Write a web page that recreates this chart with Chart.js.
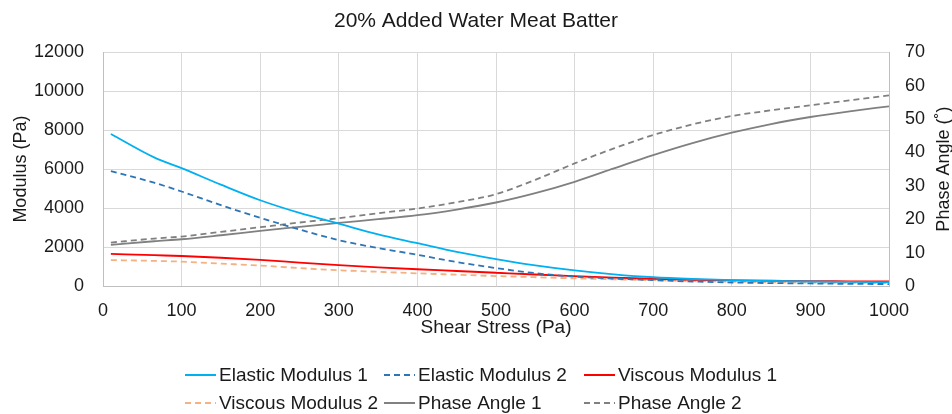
<!DOCTYPE html>
<html>
<head>
<meta charset="utf-8">
<script src="https://cdn.jsdelivr.net/npm/chart.js@4/dist/chart.umd.min.js"></script>
<style>
  html, body { margin: 0; padding: 0; background: #fff; }
  #wrap { width: 952px; height: 414px; position: relative; }
</style>
</head>
<body>
<div id="wrap"><canvas id="chart" width="952" height="414"></canvas></div>
<script>
// Shear stress (Pa)
const stress = [10, 65, 100, 150, 200, 250, 300, 350, 400, 450, 500, 550, 600, 650, 700, 750, 800, 850, 900, 950, 1000];
// Modulus (Pa)
const elastic1 = [7800, 6600, 6050, 5200, 4400, 3750, 3200, 2650, 2200, 1750, 1380, 1060, 800, 600, 450, 360, 300, 260, 230, 210, 200];
const elastic2 = [5900, 5300, 4850, 4150, 3500, 2900, 2350, 1950, 1600, 1230, 920, 660, 480, 380, 300, 230, 180, 150, 130, 110, 100];
const viscous1 = [1650, 1580, 1540, 1450, 1340, 1200, 1070, 960, 860, 770, 680, 590, 510, 430, 370, 320, 290, 270, 250, 240, 230];
const viscous2 = [1330, 1290, 1250, 1150, 1050, 920, 810, 730, 650, 580, 510, 450, 390, 340, 300, 260, 220, 190, 170, 160, 150];
// Phase angle (degrees)
const phase1 = [12.3, 13.4, 14.0, 15.2, 16.5, 17.7, 18.9, 20.0, 21.2, 22.9, 25.0, 27.8, 31.2, 35.2, 39.2, 42.8, 45.9, 48.5, 50.6, 52.3, 53.8];
const phase2 = [13.0, 14.2, 14.8, 16.2, 17.6, 19.0, 20.3, 21.8, 23.2, 25.1, 27.5, 31.8, 36.7, 41.2, 45.2, 48.4, 50.9, 52.6, 54.1, 55.6, 57.1];
// axis ranges
const xRange = [0, 1000, 100];
const modulusRange = [0, 12000, 2000];
const phaseRange = [0, 70, 10];

const FONT = '"Liberation Sans", Arial, sans-serif';
const TEXT = '#1a1a1a';
const GRID = '#d9d9d9';

function pts(vals) {
    return vals.map((v, i) => ({ x: stress[i], y: v }));
}

function series(label, vals, color, dashed, axis) {
    return {
        label: label,
        data: pts(vals),
        borderColor: color,
        backgroundColor: color,
        borderWidth: 1.8,
        borderDash: dashed ? [6, 4] : [],
        pointRadius: 0,
        fill: false,
        cubicInterpolationMode: 'monotone',
        yAxisID: axis
    };
}

const datasets = [
    series('Elastic Modulus 1', elastic1, '#00b0f0', false, 'y'),
    series('Elastic Modulus 2', elastic2, '#2e75b6', true, 'y'),
    series('Viscous Modulus 1', viscous1, '#ff0000', false, 'y'),
    series('Viscous Modulus 2', viscous2, '#f4b183', true, 'y'),
    series('Phase Angle 1', phase1, '#808080', false, 'y1'),
    series('Phase Angle 2', phase2, '#808080', true, 'y1')
];

// legend in a 3-column grid + right axis title reading bottom-to-top
const extras = {
    id: 'extras',
    afterDraw(chart) {
        const ctx = chart.ctx;
        const cols = [185, 384, 584];
        const rows = [375, 403];
        ctx.save();
        ctx.font = '19px ' + FONT;
        ctx.textBaseline = 'middle';
        ctx.textAlign = 'left';
        chart.data.datasets.forEach((ds, i) => {
            const x = cols[i % 3];
            const y = rows[Math.floor(i / 3)];
            ctx.strokeStyle = ds.borderColor;
            ctx.lineWidth = 2;
            ctx.setLineDash(ds.borderDash);
            ctx.beginPath();
            ctx.moveTo(x, y);
            ctx.lineTo(x + 31, y);
            ctx.stroke();
            ctx.setLineDash([]);
            ctx.fillStyle = TEXT;
            ctx.fillText(ds.label, x + 34, y + 1);
        });

        const y1 = chart.scales.y1;
        ctx.translate(944, (y1.top + y1.bottom) / 2);
        ctx.rotate(-Math.PI / 2);
        ctx.font = '18px ' + FONT;
        ctx.textAlign = 'center';
        ctx.fillText('Phase Angle (˚)', 0, 0);
        ctx.restore();
    }
};

const plain = v => String(v);

new Chart(document.getElementById('chart'), {
    type: 'line',
    data: { datasets: datasets },
    plugins: [extras],
    options: {
        responsive: false,
        animation: false,
        layout: { padding: { left: 0, right: 0, top: 0, bottom: 68 } },
        plugins: {
            legend: { display: false },
            tooltip: { enabled: false },
            title: {
                display: true,
                text: '20% Added Water Meat Batter',
                color: TEXT,
                font: { family: FONT, size: 21, weight: 'normal', lineHeight: 1.2 },
                padding: { top: 9, bottom: 18 }
            }
        },
        scales: {
            x: {
                type: 'linear',
                min: xRange[0],
                max: xRange[1],
                ticks: {
                    stepSize: xRange[2],
                    color: TEXT,
                    padding: 14,
                    maxRotation: 0,
                    callback: plain,
                    font: { family: FONT, size: 18 }
                },
                grid: { color: GRID, drawTicks: false },
                border: { color: '#bfbfbf' },
                title: {
                    display: true,
                    text: 'Shear Stress (Pa)',
                    color: TEXT,
                    font: { family: FONT, size: 19, lineHeight: 1 },
                    padding: { top: 0, bottom: 9 }
                },
                afterFit(scale) { scale.height = 60; }
            },
            y: {
                position: 'left',
                min: modulusRange[0],
                max: modulusRange[1],
                ticks: {
                    stepSize: modulusRange[2],
                    color: TEXT,
                    padding: 19,
                    callback: plain,
                    font: { family: FONT, size: 18 }
                },
                grid: { color: GRID, drawTicks: false },
                border: { color: '#bfbfbf' },
                title: {
                    display: true,
                    text: 'Modulus (Pa)',
                    color: TEXT,
                    font: { family: FONT, size: 18, lineHeight: 1 },
                    padding: { top: 12, bottom: 0 }
                },
                afterFit(scale) { scale.width = 103; }
            },
            y1: {
                position: 'right',
                min: phaseRange[0],
                max: phaseRange[1],
                ticks: {
                    stepSize: phaseRange[2],
                    color: TEXT,
                    padding: 16,
                    callback: plain,
                    font: { family: FONT, size: 18 }
                },
                grid: { drawOnChartArea: false, drawTicks: false },
                border: { color: '#bfbfbf' },
                afterFit(scale) { scale.width = 63; }
            }
        }
    }
});
</script>
</body>
</html>
